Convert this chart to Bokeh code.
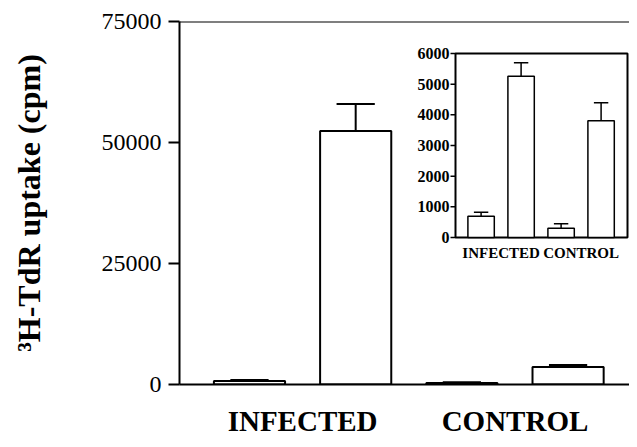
from bokeh.plotting import figure
from bokeh.models import FixedTicker, NumeralTickFormatter, Span, ColumnDataSource, Range1d
from bokeh.core.properties import value
from bokeh.embed import file_html
from bokeh.resources import INLINE

# ---- data ----
groups = ["INFECTED", "CONTROL"]
group_pos = [1.5, 3.5]
bar_pos = [1, 2, 3, 4]

main_vals = [700, 52400, 300, 3600]
main_sem = [250, 5550, 150, 450]
main_ticks = [0, 25000, 50000, 75000]

inset_vals = [690, 5260, 300, 3810]
inset_sem = [135, 435, 145, 580]
inset_ticks = [0, 1000, 2000, 3000, 4000, 5000, 6000]

SERIF = "Liberation Serif"

MAIN_Y = (0, 75000)
INSET_X = (0.36, 4.66)
INSET_Y = (0, 6000)

# layout (pixels within the figure)
W, H = 629, 439
FR_L, FR_R, FR_T, FR_B = 179, 629, 21, 384          # main frame
IN_L, IN_R, IN_T, IN_B = 455, 627, 53, 237          # inset box


def draw_bars(fig, vals, sem, bar_w, cap_half, lw, **rng):
    tops = [v + s for v, s in zip(vals, sem)]
    src = ColumnDataSource(dict(
        x=bar_pos, top=vals, err=tops,
        cx0=[x - cap_half for x in bar_pos], cx1=[x + cap_half for x in bar_pos],
    ))
    fig.vbar(x="x", top="top", bottom=0, width=bar_w, source=src,
             fill_color="white", line_color="black", line_width=lw, **rng)
    fig.segment(x0="x", y0="top", x1="x", y1="err", source=src,
                line_color="black", line_width=lw, **rng)
    fig.segment(x0="cx0", y0="err", x1="cx1", y1="err", source=src,
                line_color="black", line_width=lw, **rng)


p = figure(width=W, height=H, output_backend="svg", toolbar_location=None,
           x_range=(0.341, 0.341 + (FR_R - FR_L) / 106.2), y_range=MAIN_Y,
           min_border_left=FR_L, min_border_right=W - FR_R, min_border_top=FR_T,
           min_border_bottom=H - FR_B)
p.outline_line_color = None
p.xgrid.visible = False
p.ygrid.visible = False
p.background_fill_color = "white"
p.border_fill_color = "white"

draw_bars(p, main_vals, main_sem, 0.67, 0.18, 2)

p.add_layout(Span(location=MAIN_Y[1], dimension="width", line_color="black", line_width=2))

p.yaxis.ticker = FixedTicker(ticks=main_ticks)
p.yaxis.formatter = NumeralTickFormatter(format="0")
p.yaxis.axis_line_width = 2
p.yaxis.major_tick_line_width = 2
p.yaxis.major_tick_out = 11
p.yaxis.major_tick_in = 0
p.yaxis.minor_tick_line_color = None
p.yaxis.major_label_text_font = SERIF
p.yaxis.major_label_text_font_size = "24px"
p.yaxis.major_label_text_color = "black"
p.yaxis.major_label_standoff = 7
p.yaxis.axis_label = "³H-TdR uptake (cpm)"
p.yaxis.axis_label_text_font = SERIF
p.yaxis.axis_label_text_font_style = "bold"
p.yaxis.axis_label_text_font_size = "32px"
p.yaxis.axis_label_text_color = "black"
p.yaxis.axis_label_standoff = 52

p.xaxis.ticker = FixedTicker(ticks=group_pos)
p.xaxis.major_label_overrides = {gp: g for gp, g in zip(group_pos, groups)}
p.xaxis.axis_line_width = 2
p.xaxis.major_tick_line_color = None
p.xaxis.minor_tick_line_color = None
p.xaxis.major_tick_out = 0
p.xaxis.major_tick_in = 0
p.xaxis.major_label_text_font = SERIF
p.xaxis.major_label_text_font_style = "bold"
p.xaxis.major_label_text_font_size = "29px"
p.xaxis.major_label_text_color = "black"
p.xaxis.major_label_standoff = 20

# ---- inset drawn in the same figure on its own scales ----
ppx = (IN_R - IN_L) / (INSET_X[1] - INSET_X[0])
ppy = (IN_B - IN_T) / (INSET_Y[1] - INSET_Y[0])
p.extra_x_ranges = {"inset": Range1d(INSET_X[0] - (IN_L - FR_L) / ppx,
                                     INSET_X[1] + (FR_R - IN_R) / ppx)}
p.extra_y_ranges = {"inset": Range1d(INSET_Y[0] - (FR_B - IN_B) / ppy,
                                     INSET_Y[1] + (IN_T - FR_T) / ppy)}
R = dict(x_range_name="inset", y_range_name="inset")

p.quad(left=[INSET_X[0]], right=[INSET_X[1]], bottom=[INSET_Y[0]], top=[INSET_Y[1]],
       fill_color="white", line_color="black", line_width=2, **R)

draw_bars(p, inset_vals, inset_sem, 0.66, 0.18, 1.5, **R)

tick_src = ColumnDataSource(dict(
    y=inset_ticks,
    x=[INSET_X[0]] * len(inset_ticks),
    lab=[str(t) for t in inset_ticks],
))
p.ray(x="x", y="y", length=5, length_units="screen", angle=180, angle_units="deg",
      line_color="black", line_width=1.5, source=tick_src, **R)
p.text(x="x", y="y", text="lab", source=tick_src, x_offset=-6,
       text_align="right", text_baseline="middle",
       text_font=value(SERIF), text_font_style="bold", text_font_size="16px",
       text_color="black", **R)

p.text(x=group_pos, y=[INSET_Y[0]] * len(group_pos), text=groups, y_offset=7,
       text_align="center", text_baseline="top",
       text_font=value(SERIF), text_font_style="bold", text_font_size="15px",
       text_color="black", **R)

open("out.html", "w").write(file_html(p, INLINE))
